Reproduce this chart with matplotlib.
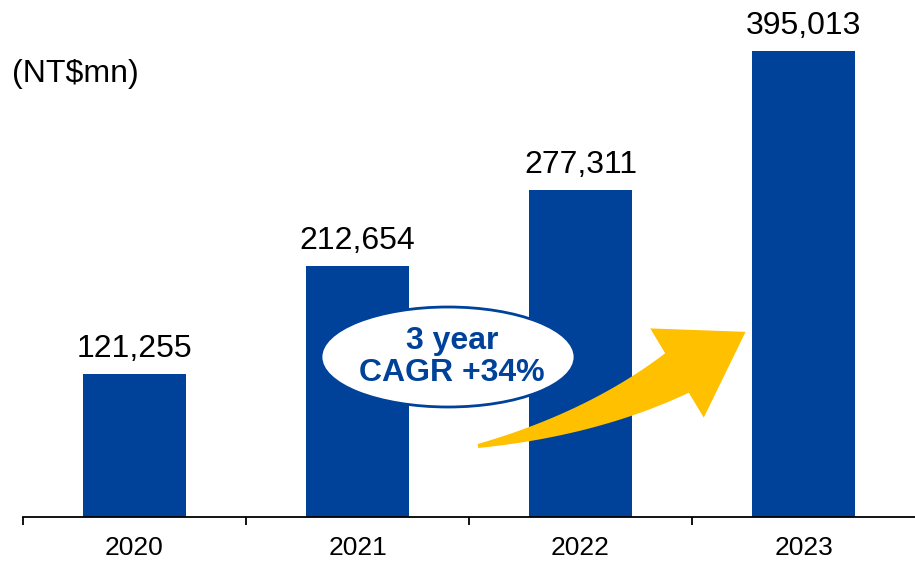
import numpy as np
import matplotlib
matplotlib.use('Agg')
import matplotlib.pyplot as plt
from matplotlib.patches import Ellipse, Polygon

plt.rcParams['font.family'] = ['Liberation Sans', 'DejaVu Sans']

years = ['2020', '2021', '2022', '2023']
revenue = [121255, 212654, 277311, 395013]
unit_label = '(NT$mn)'
cagr_text = '3 year\nCAGR +34%'

BLUE = '#00429A'
GOLD = '#FFC000'

W, H = 915, 561
fig = plt.figure(figsize=(W / 100, H / 100), dpi=100)
ax = fig.add_axes([23 / W, 44 / H, 1 - 23 / W, 517 / H])

x = np.arange(len(years))
ax.bar(x, revenue, width=0.46, color=BLUE, zorder=2)

for xi, v in zip(x, revenue):
    ax.annotate(f'{v:,}', (xi, v), xytext=(0, 12), textcoords='offset points',
                ha='center', va='baseline', fontsize=23, color='black')

ax.set_xlim(-0.5, 3.5)
ax.set_ylim(0, 395013 * 517 / 466)
ax.set_yticks([])
for s in ['left', 'right', 'top']:
    ax.spines[s].set_visible(False)
ax.spines['bottom'].set_linewidth(1.3)

ax.set_xticks(x)
ax.set_xticklabels(years, fontsize=19)
ax.tick_params(axis='x', which='major', length=0, pad=14)
ax.set_xticks(np.arange(-0.5, 3.0, 1.0), minor=True)
ax.tick_params(axis='x', which='minor', length=6, width=1.3, direction='out')

# unit label
fig.text(12 / W, 1 - 74 / H, unit_label, fontsize=23, ha='left', va='center')

# growth arrow (figure pixel geometry, y measured from top)
def fp(px, py):
    return (px / W, 1 - py / H)

p0 = np.array([478.0, 446.0])
p1 = np.array([592.0, 424.0])
p2 = np.array([677.0, 373.0])
t = np.linspace(0, 1, 40)
curve = ((1 - t)[:, None] ** 2) * p0 + (2 * (1 - t) * t)[:, None] * p1 + (t ** 2)[:, None] * p2
deriv = 2 * (1 - t)[:, None] * (p1 - p0) + 2 * t[:, None] * (p2 - p1)
norm = np.stack([deriv[:, 1], -deriv[:, 0]], axis=1)
norm /= np.linalg.norm(norm, axis=1)[:, None]
half = 2 + 21 * t
upper = curve + norm * half[:, None]
lower = curve - norm * half[:, None]
d_end = deriv[-1] / np.linalg.norm(deriv[-1])
n_end = norm[-1]
tip = p2 + d_end * 80
c1 = p2 + n_end * 52
c2 = p2 - n_end * 52
pts = list(upper) + [c1, tip, c2] + list(lower[::-1])
pts = [fp(*p) for p in pts]
fig.patches.append(Polygon(pts, closed=True, facecolor=GOLD, edgecolor='none',
                           transform=fig.transFigure, zorder=3))

# CAGR bubble
cx, cy = fp(448, 357)
fig.patches.append(Ellipse((cx, cy), 254 / W, 100 / H, facecolor='white',
                           edgecolor=BLUE, linewidth=2, transform=fig.transFigure, zorder=4))
fig.text(cx + 4 / W, cy, cagr_text, fontsize=23, fontweight='bold', color=BLUE,
         ha='center', va='center', linespacing=1.1, zorder=5)

fig.savefig('out.png', dpi=100)
